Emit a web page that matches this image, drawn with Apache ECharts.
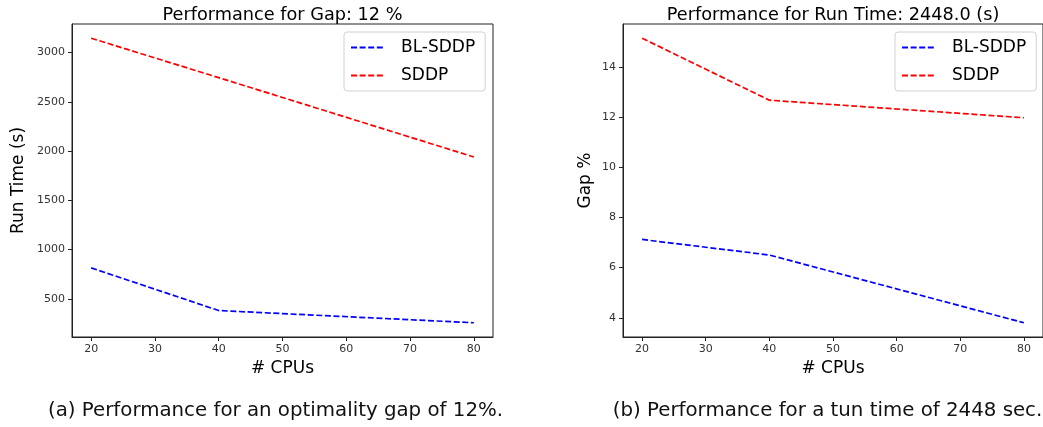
<!DOCTYPE html>
<html><head><meta charset="utf-8">
<script src="https://cdn.jsdelivr.net/npm/echarts@6/dist/echarts.min.js"></script>
<style>html,body{margin:0;padding:0;background:#fff;}#c{width:1043px;height:427px;}</style>
</head><body><div id="c"></div>
<script>
const cpus = [20, 40, 80];
const xTicks = [20, 30, 40, 50, 60, 70, 80];
const runTimeBL = [815, 382, 258];
const runTimeSDDP = [3145, 2745, 1940];
const runTimeTicks = [500, 1000, 1500, 2000, 2500, 3000];
const gapBL = [7.12, 6.5, 3.8];
const gapSDDP = [15.14, 12.67, 11.97];
const gapTicks = [4, 6, 8, 10, 12, 14];
const seriesNames = ['BL-SDDP', 'SDDP'];
const titles = ['Performance for Gap: 12 %', 'Performance for Run Time: 2448.0 (s)'];
const captions = ['(a) Performance for an optimality gap of 12%.', '(b) Performance for a tun time of 2448 sec.'];
const yNames = ['Run Time (s)', 'Gap %'];
const xName = '# CPUs';

function lim(arrs){
  const all = [].concat(...arrs);
  const lo = Math.min(...all), hi = Math.max(...all), m = (hi - lo) * 0.05;
  return [lo - m, hi + m];
}
const xl = lim([cpus]);
const yl0 = lim([runTimeBL, runTimeSDDP]);
const yl1 = lim([gapBL, gapSDDP]);
const F = 'DejaVu Sans';
const tickLbl = {fontFamily: F, fontSize: 11, color: '#333'};

function xAxis(i){
  return {type:'value', gridIndex:i, min:xl[0], max:xl[1], name:xName, nameLocation:'middle', nameGap:22,
    nameTextStyle:{fontFamily:F, fontSize:17, color:'#000'},
    axisLine:{show:true, lineStyle:{color:'#222', width:1}},
    axisTick:{show:true, length:4, customValues:xTicks, lineStyle:{color:'#222'}},
    axisLabel:Object.assign({margin:7, customValues:xTicks, formatter:v=>String(v)}, tickLbl),
    splitLine:{show:false}};
}
function yAxis(i, l, ticks, nameGap){
  return {type:'value', gridIndex:i, min:l[0], max:l[1], name:yNames[i], nameLocation:'middle', nameGap:nameGap,
    nameTextStyle:{fontFamily:F, fontSize:17, color:'#000'},
    axisLine:{show:true, lineStyle:{color:'#222', width:1}},
    axisTick:{show:true, length:4, customValues:ticks, lineStyle:{color:'#222'}},
    axisLabel:Object.assign({margin:7, customValues:ticks, formatter:v=>String(v)}, tickLbl),
    splitLine:{show:false}};
}
function ser(name, xi, vals, color){
  return {type:'line', name:name, xAxisIndex:xi, yAxisIndex:xi, symbol:'none', silent:true,
    data: cpus.map((c,k)=>[c, vals[k]]),
    lineStyle:{color:color, width:1.7, type:[6,2.6]}, itemStyle:{color:color}};
}
function legend(left){
  return {left:left, top:32, orient:'vertical', data:seriesNames, itemWidth:34, itemHeight:10, itemGap:11,
    padding:[7,10,7,6], borderColor:'#d0d0d0', borderWidth:1, borderRadius:3, backgroundColor:'#fff',
    itemStyle:{opacity:0},
    textStyle:{fontFamily:F, fontSize:17, color:'#000', padding:[0,0,0,11]}, selectedMode:false};
}
const tStyle = {fontFamily:F, fontSize:17.7, fontWeight:'normal', color:'#000'};
const cStyle = {fontFamily:F, fontSize:19.8, fontWeight:'normal', color:'#111'};
const chart = echarts.init(document.getElementById('c'), null, {renderer:'canvas'});
chart.setOption({
  animation:false,
  title:[
    {text:titles[0], left:277.5, textAlign:'center', top:1, textStyle:tStyle},
    {text:titles[1], left:828, textAlign:'center', top:1, textStyle:tStyle},
    {text:captions[0], left:270.5, textAlign:'center', top:396, textStyle:cStyle},
    {text:captions[1], left:822.5, textAlign:'center', top:396, textStyle:cStyle}
  ],
  grid:[
    {left:72, width:421, top:24, bottom:90, show:true, borderColor:'#222', borderWidth:1, backgroundColor:'transparent'},
    {left:623, width:420, top:24, bottom:90, show:true, borderColor:'#222', borderWidth:1, backgroundColor:'transparent'}
  ],
  legend:[legend(344), legend(895)],
  xAxis:[xAxis(0), xAxis(1)],
  yAxis:[yAxis(0, yl0, runTimeTicks, 45), yAxis(1, yl1, gapTicks, 29)],
  series:[
    ser(seriesNames[0], 0, runTimeBL, '#0000ff'),
    ser(seriesNames[1], 0, runTimeSDDP, '#ff0000'),
    ser(seriesNames[0], 1, gapBL, '#0000ff'),
    ser(seriesNames[1], 1, gapSDDP, '#ff0000')
  ]
});
</script></body></html>
